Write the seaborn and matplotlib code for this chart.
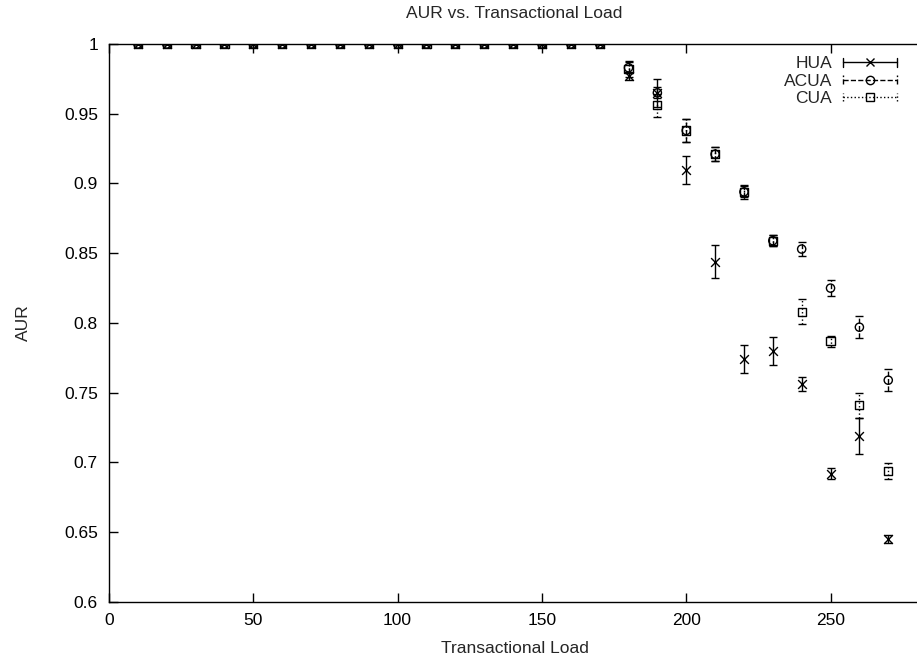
import numpy as np
import pandas as pd
import seaborn as sns
import matplotlib.pyplot as plt
from matplotlib.lines import Line2D
from matplotlib.legend_handler import HandlerLine2D
from matplotlib.ticker import MultipleLocator, FuncFormatter

sns.set_style('ticks')
plt.rcParams['font.family'] = ['Liberation Sans', 'DejaVu Sans']

# data
load = list(range(10, 280, 10))
hua = [1.0] * 17 + [0.977, 0.965, 0.910, 0.844, 0.774, 0.780, 0.756, 0.692, 0.719, 0.645]
hua_err = [0.0] * 17 + [0.003, 0.010, 0.010, 0.012, 0.010, 0.010, 0.005, 0.004, 0.013, 0.003]
acua = [1.0] * 17 + [0.983, 0.965, 0.938, 0.921, 0.894, 0.859, 0.853, 0.825, 0.797, 0.759]
acua_err = [0.0] * 17 + [0.004, 0.004, 0.008, 0.005, 0.004, 0.004, 0.005, 0.006, 0.008, 0.008]
cua = [1.0] * 17 + [0.982, 0.956, 0.938, 0.921, 0.894, 0.859, 0.808, 0.787, 0.741, 0.694]
cua_err = [0.0] * 17 + [0.006, 0.008, 0.008, 0.005, 0.005, 0.004, 0.009, 0.004, 0.009, 0.006]

series = [('HUA', hua, hua_err, 'x', '-'),
          ('ACUA', acua, acua_err, 'o', '--'),
          ('CUA', cua, cua_err, 's', ':')]

FS = 12.5


class CapHandler(HandlerLine2D):
    # gnuplot style key sample: line with small end ticks
    def create_artists(self, legend, orig_handle, xdescent, ydescent,
                       width, height, fontsize, trans):
        arts = super().create_artists(legend, orig_handle, xdescent, ydescent,
                                      width, height, fontsize, trans)
        y = height / 2 - ydescent
        for x in (-xdescent, width - xdescent):
            cap = Line2D([x, x], [y - 3, y + 3], color='black', lw=1,
                         linestyle=orig_handle.get_linestyle())
            cap.set_transform(trans)
            arts.append(cap)
        return arts


fig = plt.figure(figsize=(9.17, 6.63), dpi=100)
ax = fig.add_axes([109 / 917, 61 / 663, 811 / 917, 558 / 663])

handles = []
for name, vals, errs, mk, ls in series:
    df = pd.DataFrame({'load': load, 'aur': vals, 'err': errs})
    eb = ax.errorbar(df['load'], df['aur'], yerr=df['err'], fmt='none',
                     ecolor='black', elinewidth=1, capsize=3, capthick=1)
    eb[2][0].set_linestyle(ls)
    if mk == 'x':
        sns.scatterplot(data=df, x='load', y='aur', marker='x', s=40,
                        color='black', linewidth=1, ax=ax, zorder=3)
    else:
        sns.scatterplot(data=df, x='load', y='aur', marker=mk, s=35,
                        facecolors='none', edgecolor='black', linewidth=1,
                        ax=ax, zorder=3)
    handles.append(Line2D([], [], color='black', lw=1, linestyle=ls,
                          marker=mk, markersize=6, markerfacecolor='none',
                          markeredgecolor='black', label=name))

ax.set_xlim(0, 281)
ax.set_ylim(0.6, 1.0)
ax.xaxis.set_major_locator(MultipleLocator(50))
ax.yaxis.set_major_locator(MultipleLocator(0.05))
ax.yaxis.set_major_formatter(FuncFormatter(lambda v, p: '%g' % round(v, 2)))
ax.tick_params(direction='in', length=6.5, width=1, top=True, right=False,
               labelsize=FS, colors='black', pad=8)
for s in ax.spines.values():
    s.set_linewidth(1)
    s.set_color('black')

ax.set_title('AUR vs. Transactional Load', fontsize=FS, pad=19)
ax.set_xlabel('Transactional Load', fontsize=FS, labelpad=9)
ax.set_ylabel('AUR', fontsize=FS, labelpad=24)

leg = ax.legend(handles=handles, loc='upper right', frameon=False,
                markerfirst=False, fontsize=FS, handlelength=3.1,
                handletextpad=0.65, labelspacing=0.12, borderaxespad=0,
                borderpad=0, bbox_to_anchor=((897 - 109) / 811, 0.978),
                handler_map={Line2D: CapHandler()})

fig.savefig('out.png', dpi=100)
